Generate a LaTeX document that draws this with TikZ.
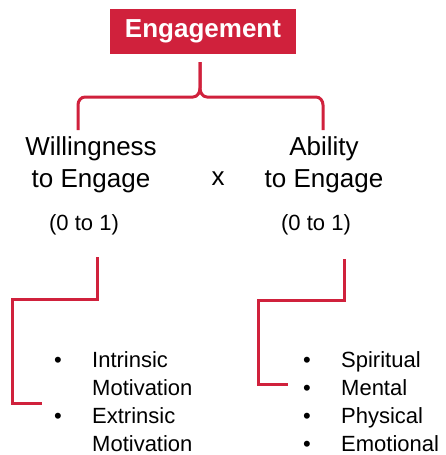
\documentclass[tikz,border=0pt]{standalone}
\usepackage{fontspec}
\setmainfont{Liberation Sans}
\usetikzlibrary{positioning,calc}
\definecolor{EngageRed}{RGB}{208,33,60}
\tikzset{
  headbox/.style={fill=EngageRed,text=white,minimum width=186pt,minimum height=45pt,
    inner sep=0pt,font=\fontsize{26}{30}\selectfont\bfseries},
  factor/.style={align=center,inner sep=0pt,anchor=base,font=\fontsize{26}{32}\selectfont},
  rangetext/.style={inner sep=0pt,anchor=base,font=\fontsize{22}{27}\selectfont},
  itemlist/.style={align=left,inner sep=0pt,text depth=0pt,anchor=base west,
    font=\fontsize{22}{27.7}\selectfont},
  brace/.style={draw=EngageRed,line width=3pt,line join=round},
  link/.style={draw=EngageRed,line width=3pt}
}
\newcommand{\bulletrow}[1]{\makebox[38pt][l]{\textbullet}#1}

\begin{document}
\begin{tikzpicture}[x=1pt,y=-1pt]
  \useasboundingbox (0,0) rectangle (446,455);
  \node[headbox] (eng) at (203,31.5) {Engagement};
  \node[factor] (will) at (91,187) {Willingness\\to Engage};
  \node[factor] (times) at (218,185) {x};
  \node[factor] (abil) at (324,187) {Ability\\to Engage};
  \node[rangetext] (wrange) at (84,230) {(0 to 1)};
  \node[rangetext] (arange) at (316,230) {(0 to 1)};
  \node[itemlist] (wlist) at (54,451) {%
    \bulletrow{Intrinsic}\\
    \hspace*{38pt}Motivation\\
    \bulletrow{Extrinsic}\\
    \hspace*{38pt}Motivation};
  \node[itemlist] (alist) at (303,451) {%
    \bulletrow{Spiritual}\\
    \bulletrow{Mental}\\
    \bulletrow{Physical}\\
    \bulletrow{Emotional}};
  % brace under the title
  \coordinate (tip) at (200,62);
  \coordinate (wtop) at (78,130);
  \coordinate (atop) at (323,130);
  \draw[brace] (wtop) -- (78,105) to[out=90,in=180] (85,97) -- (193,97)
    to[out=0,in=-90] (200,88) -- (tip);
  \draw[brace] (atop) -- (323,105) to[out=90,in=0] (316,97) -- (207,97)
    to[out=180,in=-90] (200,88) -- (tip);
  % elbows down to the lists
  \coordinate (wstart) at (97,257);
  \coordinate (astart) at (344,259);
  \coordinate (wend) at (42,403);
  \coordinate (aend) at (288,384);
  \draw[link] (wstart) |- (12,299) |- (wend);
  \draw[link] (astart) |- (258,300) |- (aend);
\end{tikzpicture}
\end{document}
